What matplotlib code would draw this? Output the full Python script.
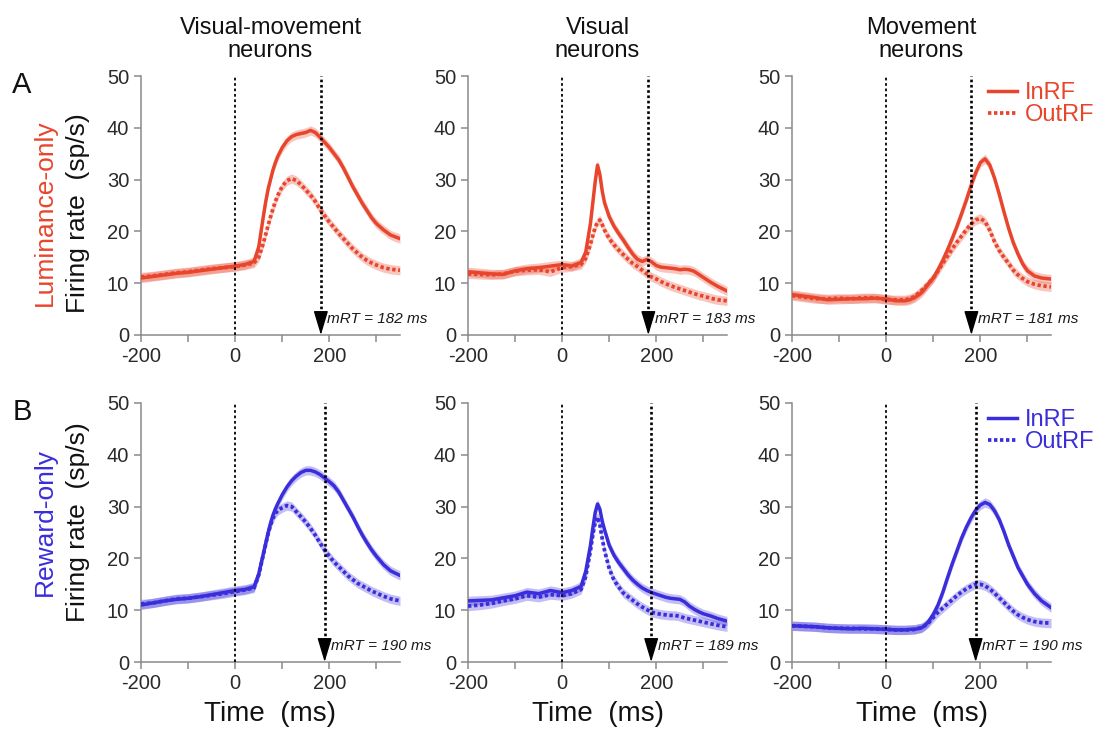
import numpy as np
import matplotlib
matplotlib.use('Agg')
import matplotlib.pyplot as plt

plt.rcParams.update({
    'font.family': ['Liberation Sans', 'DejaVu Sans'],
    'axes.unicode_minus': False,
    'axes.linewidth': 1.1,
    'axes.edgecolor': '#8a8a8a',
    'axes.spines.top': False,
    'axes.spines.right': False,
    'xtick.color': '#8a8a8a',
    'ytick.color': '#8a8a8a',
    'xtick.labelcolor': '#2a2a2a',
    'ytick.labelcolor': '#2a2a2a',
})

# ── data ───────────────────────────────────────────────────────────────────
time_ms = [-200, -175, -150, -125, -100, -75, -50, -25, 0, 20, 40, 50, 60, 65,
           70, 75, 80, 85, 90, 100, 110, 120, 130, 140, 150, 160, 170, 180,
           190, 200, 210, 220, 230, 240, 250, 260, 270, 280, 290, 300, 315,
           330, 350]

# Row A: luminance-only
lum_vm_in = [11.0, 11.3, 11.6, 11.9, 12.1, 12.4, 12.7, 13.0, 13.3,
             13.6, 14.2, 17.0, 23.0, 25.8, 28.2, 30.0, 31.8, 33.2, 34.4,
             36.2, 37.5, 38.3, 38.7, 38.9, 39.1, 39.5, 39.1, 38.2, 37.2, 36.2,
             35.0, 33.8, 32.2, 30.4, 28.6, 27.0, 25.4, 24.0, 22.6, 21.5,
             20.3, 19.3, 18.6]
lum_vm_out = [11.2, 11.4, 11.7, 12.0, 12.2, 12.5, 12.8, 13.0, 13.2,
              13.5, 13.9, 15.0, 17.8, 19.5, 21.2, 22.8, 24.3, 25.7, 26.9,
              28.7, 29.8, 30.2, 29.8, 29.0, 28.0, 27.0, 25.8, 24.3, 23.0, 21.8,
              20.7, 19.6, 18.6, 17.6, 16.6, 15.8, 15.0, 14.4, 13.9, 13.5,
              13.0, 12.7, 12.5]
lum_vis_in = [12.2, 12.0, 11.8, 11.7, 12.4, 12.8, 13.0, 13.3, 13.6,
              13.3, 14.0, 16.0, 21.5, 25.5, 29.5, 32.8, 31.0, 27.8, 25.5,
              22.8, 21.0, 19.6, 18.3, 16.9, 15.6, 14.6, 14.2, 14.6, 14.1, 13.4,
              13.1, 13.0, 12.9, 12.8, 12.6, 12.7, 12.6, 12.3, 11.7, 11.1,
              10.2, 9.4, 8.5]
lum_vis_out = [11.8, 11.7, 11.6, 11.8, 12.3, 12.5, 12.6, 12.2, 13.0,
               13.2, 13.6, 14.8, 17.5, 19.2, 20.8, 21.8, 22.2, 21.3, 20.2,
               18.6, 17.4, 16.4, 15.5, 14.6, 13.8, 13.2, 12.5, 11.8, 11.2, 10.8,
               10.3, 9.9, 9.5, 9.2, 8.9, 8.6, 8.3, 8.0, 7.7, 7.5,
               7.1, 6.8, 6.6]
lum_mov_in = [7.8, 7.5, 7.2, 6.8, 6.9, 7.0, 7.0, 7.1, 7.0,
              6.6, 6.6, 6.8, 7.2, 7.5, 7.8, 8.2, 8.7, 9.3, 9.9,
              11.0, 12.6, 14.4, 16.4, 18.6, 20.9, 23.4, 26.0, 28.8, 31.3, 33.3,
              34.0, 32.8, 30.3, 27.2, 23.8, 20.6, 17.8, 15.6, 13.7, 12.4,
              11.4, 11.0, 10.8]
lum_mov_out = [7.6, 7.3, 7.0, 7.0, 7.1, 7.0, 7.2, 7.2, 6.8,
               6.8, 6.8, 7.0, 7.4, 7.8, 8.2, 8.6, 9.0, 9.5, 10.0,
               11.0, 12.4, 13.8, 15.2, 16.6, 17.9, 19.1, 20.3, 21.4, 22.2, 22.5,
               21.9, 20.2, 18.0, 16.3, 15.0, 13.8, 12.5, 11.6, 10.9, 10.3,
               9.8, 9.5, 9.3]

# Row B: reward-only
rew_vm_in = [11.0, 11.4, 11.8, 12.1, 12.3, 12.6, 13.0, 13.4, 13.8,
             14.0, 14.5, 17.0, 21.0, 23.0, 25.0, 26.8, 28.3, 29.5, 30.5,
             32.3, 33.8, 35.0, 35.9, 36.6, 37.0, 37.0, 36.7, 36.2, 35.5, 34.8,
             34.0, 32.8, 31.2, 29.6, 28.0, 26.2, 24.5, 23.0, 21.6, 20.4,
             18.8, 17.6, 16.7]
rew_vm_out = [11.2, 11.4, 11.8, 12.2, 12.3, 12.6, 12.9, 13.2, 13.6,
              13.9, 14.3, 16.8, 20.8, 22.8, 24.8, 26.4, 27.7, 28.6, 29.2,
              29.8, 30.2, 30.0, 29.0, 28.0, 27.0, 25.8, 24.5, 23.0, 21.6, 20.4,
              19.3, 18.4, 17.5, 16.6, 15.9, 15.2, 14.7, 14.2, 13.7, 13.3,
              12.7, 12.2, 11.8]
rew_vis_in = [11.8, 11.9, 12.0, 12.4, 12.8, 13.5, 13.2, 13.8, 13.4,
              13.8, 14.6, 17.5, 22.5, 25.8, 28.8, 30.5, 29.5, 27.2, 25.5,
              22.5, 20.6, 19.2, 18.0, 16.8, 15.8, 15.0, 14.3, 13.8, 13.4, 13.1,
              12.8, 12.5, 12.3, 12.2, 12.1, 11.6, 10.8, 10.2, 9.7, 9.3,
              8.9, 8.4, 7.9]
rew_vis_out = [10.8, 11.0, 11.3, 11.8, 12.2, 12.8, 12.5, 13.0, 12.8,
               13.2, 14.0, 16.5, 21.5, 24.5, 27.0, 28.0, 26.5, 23.8, 21.5,
               18.0, 15.8, 14.5, 13.3, 12.6, 11.9, 11.2, 10.6, 10.1, 9.6, 9.4,
               9.2, 9.1, 9.0, 9.0, 8.8, 8.5, 8.3, 8.1, 7.9, 7.7,
               7.4, 7.1, 6.8]
rew_mov_in = [7.0, 6.9, 6.8, 6.6, 6.5, 6.4, 6.5, 6.4, 6.3,
              6.2, 6.2, 6.3, 6.3, 6.4, 6.5, 6.6, 6.9, 7.3, 7.8,
              9.2, 11.0, 13.4, 16.2, 18.9, 21.4, 23.9, 26.0, 27.8, 29.3, 30.3,
              30.8, 30.4, 29.2, 27.5, 25.2, 22.6, 20.4, 18.2, 16.6, 15.0,
              13.2, 11.8, 10.5]
rew_mov_out = [7.0, 6.9, 6.8, 6.6, 6.5, 6.5, 6.4, 6.4, 6.3,
               6.2, 6.2, 6.2, 6.3, 6.4, 6.5, 6.6, 6.9, 7.2, 7.6,
               8.6, 9.6, 10.4, 11.2, 12.0, 12.8, 13.5, 14.1, 14.6, 15.0, 15.0,
               14.7, 14.1, 13.3, 12.4, 11.5, 10.6, 9.8, 9.1, 8.6, 8.2,
               7.8, 7.6, 7.5]

mrt_lum = [182, 183, 181]
mrt_rew = [190, 189, 190]
sem_band = 0.9

col_titles = ['Visual-movement\nneurons', 'Visual\nneurons', 'Movement\nneurons']
row_names = ['Luminance-only', 'Reward-only']
row_letters = ['A', 'B']

RED = '#E8452C'
BLUE = '#3A2DDB'

rows = [
    ([lum_vm_in, lum_vis_in, lum_mov_in], [lum_vm_out, lum_vis_out, lum_mov_out], mrt_lum, RED),
    ([rew_vm_in, rew_vis_in, rew_mov_in], [rew_vm_out, rew_vis_out, rew_mov_out], mrt_rew, BLUE),
]

# ── layout in pixels of the 1106x731 canvas ───────────────────────────────
W, H = 1106, 731
col_left = [141, 468, 792]
row_top = [76, 403]
ax_w, ax_h = 259, 259

fig = plt.figure(figsize=(W / 100, H / 100), dpi=100)
t = np.array(time_ms, dtype=float)

for r, (ins, outs, mrts, color) in enumerate(rows):
    for c in range(3):
        ax = fig.add_axes([col_left[c] / W, 1 - (row_top[r] + ax_h) / H,
                           ax_w / W, ax_h / H])
        y_in = np.array(ins[c])
        y_out = np.array(outs[c])
        ax.fill_between(t, y_in - sem_band, y_in + sem_band, color=color,
                        alpha=0.3, lw=0, zorder=2)
        ax.fill_between(t, y_out - sem_band, y_out + sem_band, color=color,
                        alpha=0.3, lw=0, zorder=2)
        ax.plot(t, y_in, color=color, lw=2.5, zorder=3, label='InRF',
                solid_joinstyle='round')
        ax.plot(t, y_out, color=color, lw=2.7, ls=(0, (0.9, 0.7)), zorder=3,
                label='OutRF')

        mrt = mrts[c]
        ax.vlines(0, 0, 50, color='black', lw=1.3, linestyles=(0, (1.5, 1.5)),
                  zorder=4)
        ax.vlines(mrt, 4.0, 50, color='black', lw=1.9, linestyles=(0, (1.0, 1.0)),
                  zorder=4)
        ax.annotate('', xy=(mrt, 0), xytext=(mrt, 4.4),
                    arrowprops=dict(arrowstyle='-|>,head_length=1.5,head_width=0.45',
                                    color='black', lw=1, shrinkA=0, shrinkB=0),
                    zorder=5)
        ax.text(mrt + 14, 3.0, f'mRT = {mrt} ms', fontsize=11, style='italic',
                color='#1a1a1a', ha='left', va='center', clip_on=False)

        ax.set_xlim(-200, 350)
        ax.set_ylim(0, 50)
        ax.set_xticks([-200, 0, 200])
        ax.set_xticks([-100, 100, 300], minor=True)
        ax.set_yticks([0, 10, 20, 30, 40, 50])
        ax.tick_params(axis='both', which='both', direction='out', length=5,
                       width=1.1, labelsize=14.5)
        ax.tick_params(axis='x', which='minor', length=5)

        if r == 0:
            ax.set_title(col_titles[c], fontsize=17, linespacing=1.05, pad=14,
                         color='#111111')
        else:
            ax.set_xlabel('Time  (ms)', fontsize=20, labelpad=6, color='#111111')
        if c == 2:
            ax.legend(loc='upper left', bbox_to_anchor=(0.755, 0.975),
                      frameon=False, fontsize=17, labelcolor=color,
                      handlelength=1.25, handletextpad=0.35, labelspacing=0.0,
                      borderpad=0, borderaxespad=0)

# row labels
ylab_cy = [213, 522]
for r in range(2):
    color = rows[r][3]
    fig.text(22 / W, 1 - (row_top[r] + 9) / H, row_letters[r], fontsize=21,
             ha='center', va='center', color='#111111')
    fig.text(45 / W, 1 - ylab_cy[r] / H, row_names[r], rotation=90,
             fontsize=19, color=color, ha='center', va='center')
    fig.text(78 / W, 1 - ylab_cy[r] / H, 'Firing rate  (sp/s)', rotation=90,
             fontsize=19, color='#111111', ha='center', va='center')

fig.savefig('out.png', dpi=100, facecolor='white')
